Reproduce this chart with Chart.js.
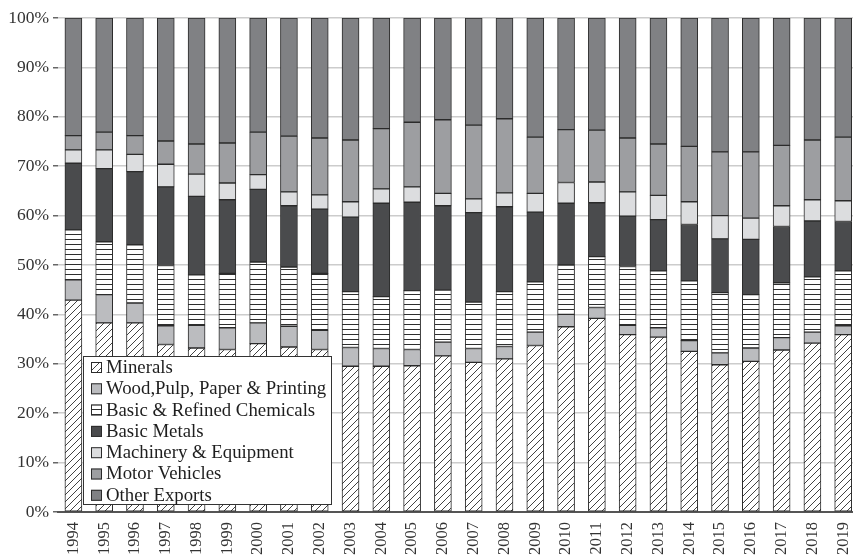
<!DOCTYPE html>
<html>
<head>
<meta charset="utf-8">
<script src="https://cdn.jsdelivr.net/npm/chart.js@4/dist/chart.umd.min.js"></script>
<style>
  html, body { margin: 0; padding: 0; background: #fff; overflow: hidden; }
  #wrap { width: 853px; height: 557px; overflow: hidden; }
</style>
</head>
<body>
<div id="wrap"><canvas id="chart" width="873" height="557"></canvas></div>
<script>
// years on the x axis
var years = ['1994','1995','1996','1997','1998','1999','2000','2001','2002','2003','2004','2005','2006',
             '2007','2008','2009','2010','2011','2012','2013','2014','2015','2016','2017','2018','2019'];

// export shares (%), bottom to top
var minerals  = [42.9,38.3,38.3,33.9,33.2,32.9,34.1,33.4,32.9,29.5,29.5,29.6,31.6,30.3,31.0,33.7,37.5,39.2,35.9,35.4,32.5,29.8,30.5,32.8,34.2,35.9];
var wood      = [4.1,5.7,4.0,3.8,4.6,4.4,4.2,4.2,3.9,3.8,3.6,3.3,2.8,2.8,2.5,2.7,2.5,2.2,1.9,1.9,2.2,2.4,2.7,2.5,2.2,1.8];
var chemicals = [10.1,10.7,11.8,12.2,10.2,11.0,12.3,12.0,11.5,11.3,10.5,11.9,10.5,9.4,11.1,10.2,10.0,10.3,11.9,11.5,12.1,12.2,10.8,11.1,11.2,11.1];
var metals    = [13.5,14.8,14.8,15.9,15.9,14.9,14.7,12.4,13.0,15.1,18.9,17.9,17.1,18.1,17.2,14.1,12.5,10.9,10.2,10.4,11.4,10.9,11.2,11.4,11.3,10.0];
var machinery = [2.7,3.8,3.5,4.6,4.5,3.4,3.0,2.8,2.9,3.1,2.9,3.1,2.5,2.8,2.8,3.8,4.2,4.2,4.9,4.9,4.6,4.7,4.3,4.2,4.3,4.2];
var motor     = [2.9,3.6,3.8,4.7,6.1,8.1,8.6,11.3,11.5,12.5,12.2,13.1,14.9,14.9,15.0,11.4,10.7,10.5,10.9,10.4,11.2,12.9,13.4,12.2,12.1,12.9];
var other     = [23.8,23.1,23.8,24.9,25.5,25.3,23.1,23.9,24.3,24.7,22.4,21.1,20.6,21.7,20.4,24.1,22.6,22.7,24.3,25.5,26.0,27.1,27.1,25.8,24.7,24.1];

var yTicks = [0,10,20,30,40,50,60,70,80,90,100];

// fill patterns
function makeHatch() {
	var c = document.createElement('canvas');
	c.width = 7; c.height = 7;
	var g = c.getContext('2d');
	g.fillStyle = '#fff';
	g.fillRect(0, 0, 7, 7);
	g.strokeStyle = '#2e2e2e';
	g.lineWidth = 0.9;
	g.beginPath();
	g.moveTo(0, 7); g.lineTo(7, 0);
	g.moveTo(-1, 1); g.lineTo(1, -1);
	g.moveTo(6, 8); g.lineTo(8, 6);
	g.stroke();
	return g.createPattern(c, 'repeat');
}
function makeStripes() {
	var c = document.createElement('canvas');
	c.width = 5; c.height = 5;
	var g = c.getContext('2d');
	g.fillStyle = '#fff';
	g.fillRect(0, 0, 5, 5);
	g.fillStyle = '#2e2e2e';
	g.fillRect(0, 4, 5, 1);
	return g.createPattern(c, 'repeat');
}
var hatch = makeHatch();
var stripes = makeStripes();

var names  = ['Minerals', 'Wood,Pulp, Paper & Printing', 'Basic & Refined Chemicals', 'Basic Metals',
              'Machinery & Equipment', 'Motor Vehicles', 'Other Exports'];
var series = [minerals, wood, chemicals, metals, machinery, motor, other];
var fills  = [hatch, '#bbbcbf', stripes, '#4a4b4d', '#dcdddf', '#9d9ea1', '#808184'];

var datasets = [];
for (var i = 0; i < series.length; i++) {
	datasets.push({
		label: names[i],
		data: series[i],
		backgroundColor: fills[i],
		borderColor: '#2b2b2b',
		borderWidth: 1,
		borderSkipped: false,
		barThickness: 17
	});
}

// legend drawn inside the plot, bottom left
var insideLegend = {
	id: 'insideLegend',
	afterDraw: function(chart) {
		var ctx = chart.ctx;
		var a = chart.chartArea;
		var bx = a.left + 25, by = a.bottom - 156, bw = 249, bh = 149;
		ctx.save();
		ctx.fillStyle = '#fff';
		ctx.fillRect(bx, by, bw, bh);
		ctx.strokeStyle = '#333';
		ctx.lineWidth = 1;
		ctx.strokeRect(bx + 0.5, by + 0.5, bw - 1, bh - 1);
		ctx.font = '18.8px "Liberation Serif", "DejaVu Serif", serif';
		ctx.textBaseline = 'middle';
		for (var i = 0; i < names.length; i++) {
			var cy = by + 11 + i * 21.3;
			ctx.fillStyle = fills[i];
			ctx.fillRect(bx + 8, cy - 5, 11, 11);
			ctx.strokeStyle = '#2b2b2b';
			ctx.strokeRect(bx + 8.5, cy - 4.5, 10, 10);
			ctx.fillStyle = '#1e1e1e';
			ctx.fillText(names[i], bx + 23, cy + 1);
		}
		ctx.restore();
	}
};

var ctx = document.getElementById('chart').getContext('2d');
var chart = new Chart(ctx, {
	type: 'bar',
	data: { labels: years, datasets: datasets },
	options: {
		responsive: false,
		animation: false,
		devicePixelRatio: 1,
		layout: { padding: { top: 18, right: 0, left: 0, bottom: 0 } },
		plugins: { legend: { display: false }, tooltip: { enabled: false } },
		scales: {
			x: {
				stacked: true,
				grid: { display: false, drawTicks: false },
				border: { display: true, color: '#555', width: 2 },
				ticks: {
					autoSkip: false, minRotation: 90, maxRotation: 90, padding: 10,
					color: '#333',
					font: { family: '"Liberation Serif", serif', size: 16.5 }
				},
				afterFit: function(s) { s.height = 45; }
			},
			y: {
				stacked: true,
				min: 0, max: 100,
				afterBuildTicks: function(s) { s.ticks = yTicks.map(function(v) { return { value: v }; }); },
				grid: { color: '#cccccc', lineWidth: 1.5, tickLength: 5, tickColor: '#666' },
				border: { display: false },
				ticks: {
					padding: 4,
					color: '#333',
					font: { family: '"Liberation Serif", serif', size: 17.5 },
					callback: function(v) { return v + '%'; }
				},
				afterFit: function(s) { s.width = 58; }
			}
		}
	},
	plugins: [insideLegend]
});
</script>
</body>
</html>
